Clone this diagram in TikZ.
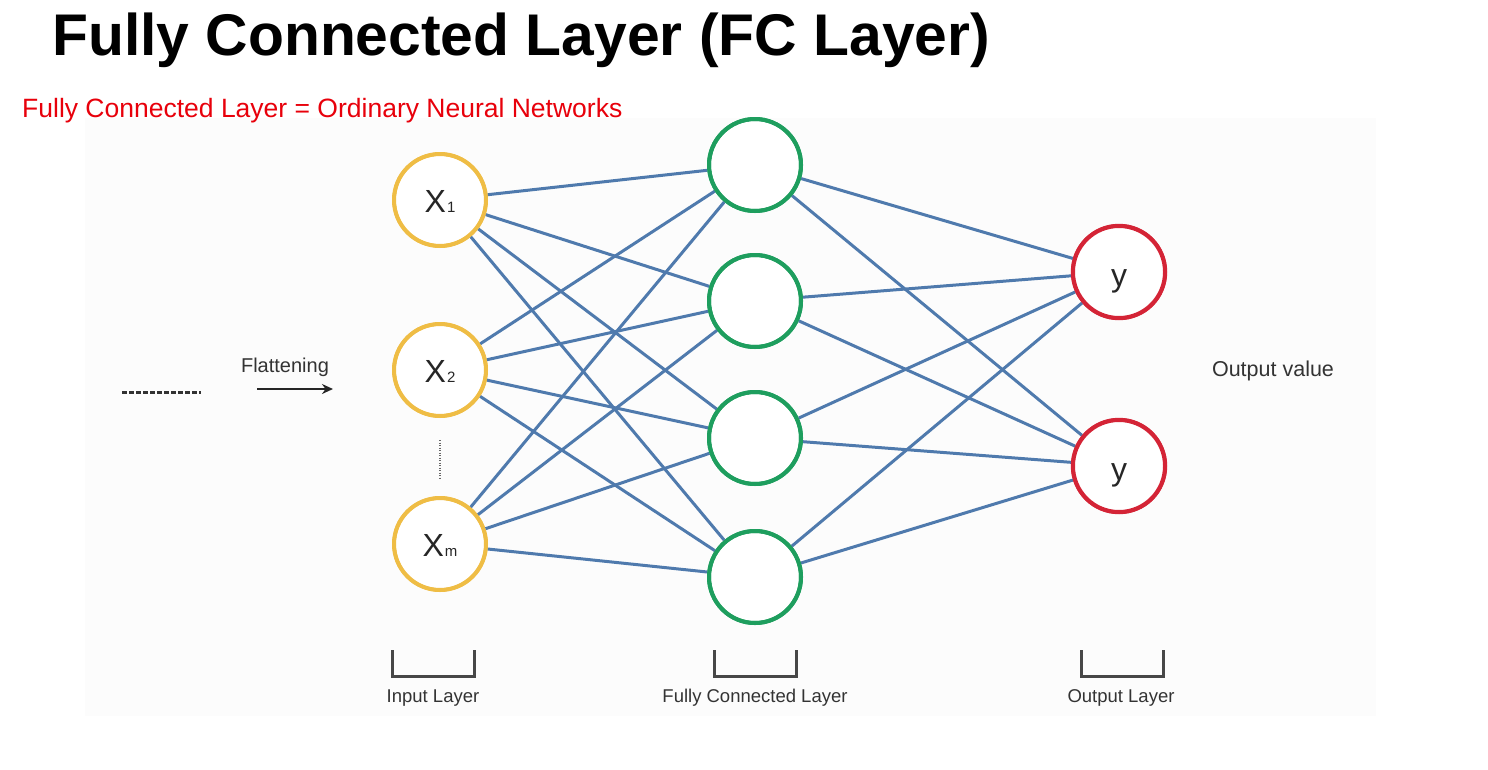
\documentclass[tikz,border=0pt]{standalone}
\usepackage{fontspec}
\setmainfont{Liberation Sans}
\usetikzlibrary{arrows.meta}
\definecolor{edgeblue}{HTML}{4F7AAD}
\definecolor{inyellow}{HTML}{EFBD45}
\definecolor{fcgreen}{HTML}{1E9E5E}
\definecolor{outred}{HTML}{D42436}
\definecolor{titlered}{HTML}{E8000B}
\definecolor{labelgray}{HTML}{333333}
\definecolor{bgpanel}{HTML}{FCFCFC}
\tikzset{
  neuron/.style={circle, line width=4pt, fill=white, minimum size=92pt, inner sep=0pt, font=\fontsize{32}{34}\selectfont, text=black!85, text height=24pt, text depth=0pt},
  innode/.style={neuron, draw=inyellow},
  fcnode/.style={neuron, draw=fcgreen},
  outnode/.style={neuron, draw=outred, text height=28pt},
  conn/.style={draw=edgeblue, line width=3pt},
  bracketline/.style={draw=labelgray!90, line width=3pt, line join=miter},
  layerlabel/.style={font=\fontsize{18.5}{20}\selectfont, text=labelgray, inner sep=0pt},
}
\newcommand{\subidx}[1]{\kern1pt{\fontsize{15}{15}\selectfont #1}}
\begin{document}
\begin{tikzpicture}[x=1pt,y=-1pt]
\useasboundingbox (0,0) rectangle (1488,769);
\fill[white] (0,0) rectangle (1488,769);
\fill[bgpanel] (85,118) rectangle (1376,716);

% title
\node[anchor=base west, inner sep=0pt, font=\fontsize{58.8}{64}\selectfont\bfseries] (title) at (52,55) {Fully Connected Layer (FC Layer)};
\node[anchor=base west, inner sep=0pt, font=\fontsize{26.5}{28}\selectfont, text=titlered] (subtitle) at (22,117) {Fully Connected Layer = Ordinary Neural Networks};

% nodes
\node[innode] (x1) at (440,200) {X\subidx{1}};
\node[innode] (x2) at (440,370) {X\subidx{2}};
\node[innode] (xm) at (440,544) {X\subidx{m}};

\node[fcnode] (h1) at (755,165) {};
\node[fcnode] (h2) at (755,301) {};
\node[fcnode] (h3) at (755,438) {};
\node[fcnode] (h4) at (755,577) {};

\node[outnode] (y1) at (1119,272) {y};
\node[outnode] (y2) at (1119,466) {y};

% connections
\foreach \i in {x1,x2,xm}{
  \foreach \j in {h1,h2,h3,h4}{
    \draw[conn] (\i) -- (\j);
  }
}
\foreach \j in {h1,h2,h3,h4}{
  \foreach \k in {y1,y2}{
    \draw[conn] (\j) -- (\k);
  }
}
% redraw node borders on top
\foreach \n in {x1,x2,xm}{\draw[line width=3.6pt, draw=inyellow] (\n) circle (46pt);}
\foreach \n in {h1,h2,h3,h4}{\draw[line width=4pt, draw=fcgreen] (\n) circle (46pt);}
\foreach \n in {y1,y2}{\draw[line width=3.4pt, draw=outred] (\n) circle (46.5pt);}

% vertical dots between X2 and Xm
\coordinate (vd1) at (440,440);
\coordinate (vd2) at (440,479);
\draw[black!60, line width=1.6pt, dash pattern=on 1.2pt off 1.3pt] (vd1) -- (vd2);

% flattening
\coordinate (hd1) at (122,392);
\coordinate (hd2) at (201,392);
\draw[black!80, line width=3pt, dash pattern=on 4.6pt off 2.4pt] (hd1) -- (hd2);
\node[font=\fontsize{20}{22}\selectfont, text=labelgray, inner sep=0pt] (flat) at (285,367) {Flattening};
\coordinate (fa1) at (257,389);
\coordinate (fa2) at (333,389);
\draw[black!85, line width=2pt, -{Stealth[length=11pt,width=10pt]}] (fa1) -- (fa2);

\node[font=\fontsize{21.5}{23}\selectfont, text=labelgray, inner sep=0pt] (outval) at (1273,371) {Output value};

% brackets
\draw[bracketline] (392,650) -- (392,676) -- (474,676) -- (474,650);
\draw[bracketline] (714,650) -- (714,676) -- (796,676) -- (796,650);
\draw[bracketline] (1081,650) -- (1081,676) -- (1163,676) -- (1163,650);

\node[layerlabel] (lin) at (433,698) {Input Layer};
\node[layerlabel] (lfc) at (755,698) {Fully Connected Layer};
\node[layerlabel] (lout) at (1121,698) {Output Layer};
\end{tikzpicture}
\end{document}
